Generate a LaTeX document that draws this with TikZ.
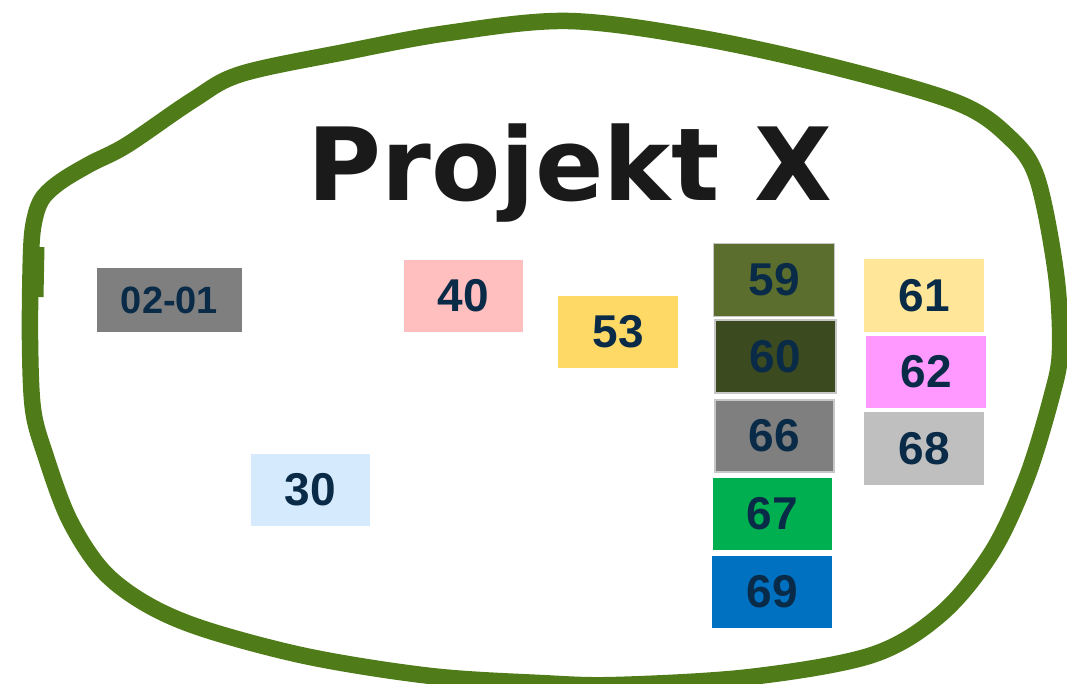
\documentclass[tikz,border=0pt]{standalone}
\usepackage{fontspec}
\setmainfont{Liberation Sans}
\newfontfamily\titlefont{DejaVu Sans}
\definecolor{outl}{HTML}{4F7C18}
\definecolor{numc}{HTML}{0A2B47}
\definecolor{titc}{HTML}{1A1A1A}
\definecolor{cA}{HTML}{7F7F7F}
\definecolor{cB}{HTML}{FFBFBF}
\definecolor{cC}{HTML}{FFD966}
\definecolor{cD}{HTML}{D5EBFD}
\definecolor{cE}{HTML}{5B6E2D}
\definecolor{cF}{HTML}{3B4A1F}
\definecolor{cG}{HTML}{00B050}
\definecolor{cH}{HTML}{0070C0}
\definecolor{cI}{HTML}{FFE699}
\definecolor{cJ}{HTML}{FF99FF}
\definecolor{cK}{HTML}{BFBFBF}
\tikzset{
  numbox/.style={rectangle, inner sep=0pt, text=numc, font=\fontsize{46}{46}\selectfont\bfseries,
    minimum width=120pt, minimum height=72pt},
  edged/.style={draw=black!22, line width=1.2pt},
  outline/.style={draw=outl, line width=16.5pt, line cap=round, line join=round},
}
\begin{document}
\begin{tikzpicture}[x=1pt,y=-1pt]
\useasboundingbox (0,0) rectangle (1067,684);
\draw[outline] plot[smooth cycle, tension=0.55] coordinates {
 (30,340) (31,255) (34,222) (42,199) (60,182) (90,164) (127,145) (193,100) (241,74) (345,52) (448,33)
 (568,21) (701,38) (838,68) (958,103) (1009,137) (1037,178) (1056,274) (1060,350)
 (1052,395) (1027,477) (992,552) (941,614) (872,655) (750,677) (616,685) (540,683)
 (431,676) (310,657) (207,630) (148,605) (103,571) (69,519) (45,454) (33,409)};
\coordinate (k1) at (37,247);
\coordinate (k2) at (36,297);
\draw[outline, line width=15pt, line cap=butt] (k1) -- (k2);
\node[anchor=base, text=titc, font=\titlefont\fontsize{101}{101}\selectfont\bfseries] (title) at (570,201) {Projekt X};
\node[numbox, fill=cA, minimum width=145pt, minimum height=64pt, font=\fontsize{38}{38}\selectfont\bfseries] (n0201) at (169.5,300) {02-01};
\node[numbox, fill=cB, minimum width=119pt] (n40) at (463.5,296) {40};
\node[numbox, fill=cC] (n53) at (618,332) {53};
\node[numbox, fill=cD, minimum width=119pt] (n30) at (310.5,490) {30};
\node[numbox, fill=cE, edged, minimum width=121pt, minimum height=73pt] (n59) at (774,280) {59};
\node[numbox, fill=cF, edged, minimum width=121pt, minimum height=73pt] (n60) at (775.5,356.5) {60};
\node[numbox, fill=cA, edged, minimum width=119pt] (n66) at (774.5,436) {66};
\node[numbox, fill=cG, minimum width=119pt] (n67) at (772.5,514) {67};
\node[numbox, fill=cH] (n69) at (772,592) {69};
\node[numbox, fill=cI, minimum height=73pt] (n61) at (924,295.5) {61};
\node[numbox, fill=cJ] (n62) at (926,372) {62};
\node[numbox, fill=cK, minimum height=73pt] (n68) at (924,448.5) {68};
\end{tikzpicture}
\end{document}
